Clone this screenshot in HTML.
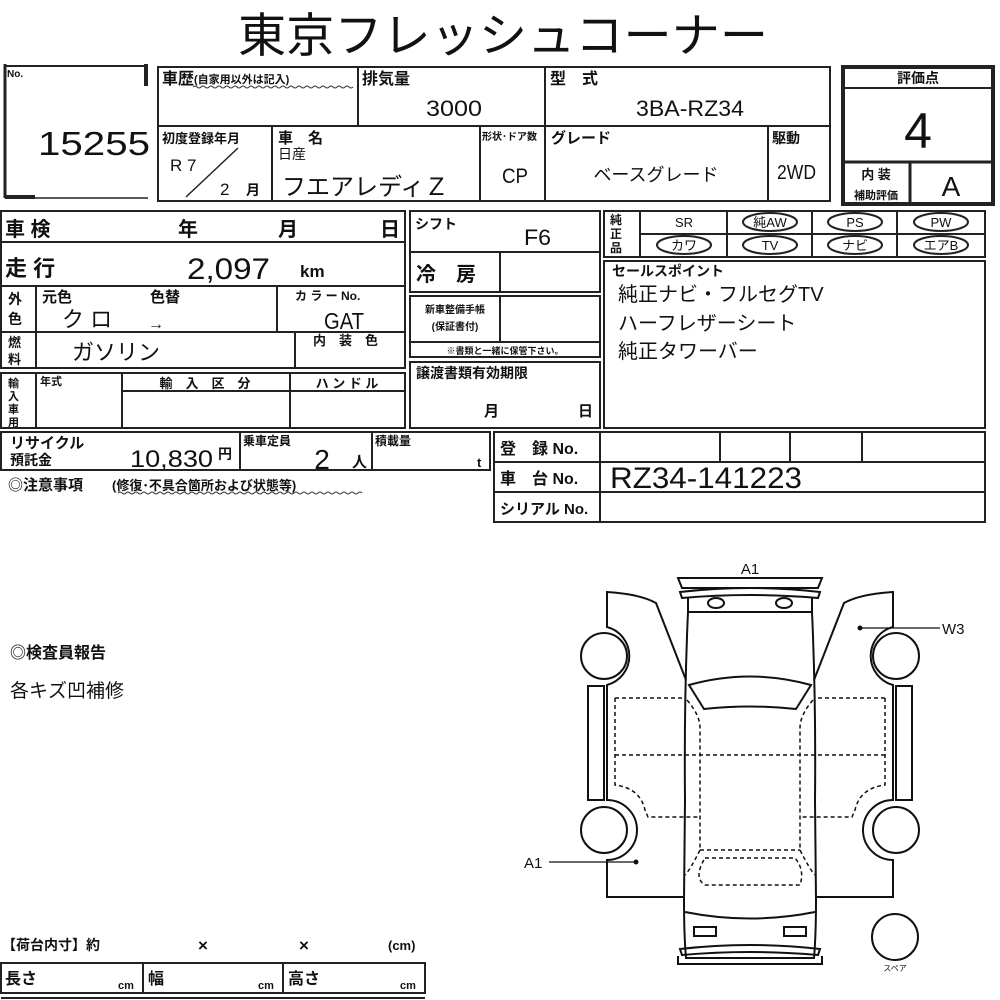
<!DOCTYPE html>
<html><head><meta charset="utf-8"><style>
html,body{margin:0;padding:0;background:#fff;}
svg{display:block;}
text{font-family:"Liberation Sans","Noto Sans CJK JP",sans-serif;fill:#111;}
.b{font-weight:bold;}
</style></head><body>
<svg width="1000" height="1000" viewBox="0 0 1000 1000" xmlns="http://www.w3.org/2000/svg">
<g stroke="#222" stroke-width="2" fill="none">
<path d="M5,66 L147,66" />
<path d="M146,64 L146,86" stroke-width="4"/>
<path d="M5,64 L5,198" stroke-width="3"/>
<path d="M5,197 L35,197" stroke-width="4"/>
<path d="M35,198 L148,198" stroke-width="1.5"/>
<rect x="158" y="67" width="672" height="134"/>
<line x1="158" y1="126" x2="830" y2="126"/>
<line x1="358" y1="67" x2="358" y2="126"/>
<line x1="545" y1="67" x2="545" y2="201"/>
<line x1="272" y1="126" x2="272" y2="201"/>
<line x1="480" y1="126" x2="480" y2="201"/>
<line x1="768" y1="126" x2="768" y2="201"/>
<line x1="186" y1="197" x2="238" y2="148" stroke-width="1.5"/>
<rect x="843" y="67" width="150" height="137" stroke-width="4"/>
<line x1="843" y1="88" x2="993" y2="88"/>
<line x1="843" y1="162" x2="993" y2="162" stroke-width="3"/>
<line x1="910" y1="162" x2="910" y2="204" stroke-width="3"/>
<rect x="1" y="211" width="404" height="157"/>
<line x1="1" y1="242" x2="405" y2="242"/>
<line x1="1" y1="286" x2="405" y2="286"/>
<line x1="1" y1="332" x2="405" y2="332"/>
<line x1="36" y1="286" x2="36" y2="368"/>
<line x1="277" y1="286" x2="277" y2="332"/>
<line x1="295" y1="332" x2="295" y2="368"/>
<rect x="1" y="373" width="404" height="55"/>
<line x1="36" y1="373" x2="36" y2="428"/>
<line x1="122" y1="373" x2="122" y2="428"/>
<line x1="290" y1="373" x2="290" y2="428"/>
<line x1="122" y1="391" x2="405" y2="391"/>
<rect x="410" y="211" width="190" height="81"/>
<line x1="410" y1="252" x2="600" y2="252"/>
<line x1="500" y1="252" x2="500" y2="292"/>
<rect x="410" y="296" width="190" height="61"/>
<line x1="410" y1="342" x2="600" y2="342"/>
<line x1="500" y1="296" x2="500" y2="342"/>
<rect x="410" y="362" width="190" height="66"/>
<rect x="604" y="211" width="381" height="46"/>
<line x1="640" y1="211" x2="640" y2="257"/>
<line x1="727" y1="211" x2="727" y2="257"/>
<line x1="812" y1="211" x2="812" y2="257"/>
<line x1="897" y1="211" x2="897" y2="257"/>
<line x1="640" y1="234" x2="985" y2="234"/>
<ellipse cx="770" cy="222" rx="27" ry="9"/>
<ellipse cx="855" cy="222" rx="27" ry="9"/>
<ellipse cx="941" cy="222" rx="27" ry="9"/>
<ellipse cx="684" cy="245" rx="27" ry="9"/>
<ellipse cx="770" cy="245" rx="27" ry="9"/>
<ellipse cx="855" cy="245" rx="27" ry="9"/>
<ellipse cx="941" cy="245" rx="27" ry="9"/>
<rect x="604" y="261" width="381" height="167"/>
<rect x="1" y="432" width="489" height="38"/>
<line x1="240" y1="432" x2="240" y2="470"/>
<line x1="372" y1="432" x2="372" y2="470"/>
<rect x="494" y="432" width="491" height="90"/>
<line x1="494" y1="462" x2="985" y2="462"/>
<line x1="494" y1="492" x2="985" y2="492"/>
<line x1="600" y1="432" x2="600" y2="522"/>
<line x1="720" y1="432" x2="720" y2="462"/>
<line x1="790" y1="432" x2="790" y2="462"/>
<line x1="862" y1="432" x2="862" y2="462"/>
<rect x="1" y="963" width="424" height="30"/>
<line x1="143" y1="963" x2="143" y2="993"/>
<line x1="283" y1="963" x2="283" y2="993"/>
<line x1="1" y1="998" x2="425" y2="998"/>
</g>
<path d="M193,87 q2,-2 4,0 t4,0 t4,0 t4,0 t4,0 t4,0 t4,0 t4,0 t4,0 t4,0 t4,0 t4,0 t4,0 t4,0 t4,0 t4,0 t4,0 t4,0 t4,0 t4,0 t4,0 t4,0 t4,0 t4,0 t4,0 t4,0 t4,0 t4,0 t4,0 t4,0 t4,0 t4,0 t4,0 t4,0 t4,0 t4,0 t4,0 t4,0 t4,0 t4,0" stroke="#333" fill="none" stroke-width="1"/>
<path d="M118,493 q2,-2 4,0 t4,0 t4,0 t4,0 t4,0 t4,0 t4,0 t4,0 t4,0 t4,0 t4,0 t4,0 t4,0 t4,0 t4,0 t4,0 t4,0 t4,0 t4,0 t4,0 t4,0 t4,0 t4,0 t4,0 t4,0 t4,0 t4,0 t4,0 t4,0 t4,0 t4,0 t4,0 t4,0 t4,0 t4,0 t4,0 t4,0 t4,0 t4,0 t4,0 t4,0 t4,0 t4,0 t4,0 t4,0 t4,0 t4,0 t4,0 t4,0 t4,0 t4,0 t4,0 t4,0 t4,0 t4,0 t4,0 t4,0 t4,0 t4,0 t4,0 t4,0" stroke="#333" fill="none" stroke-width="1"/>

<text x="238" y="52" font-size="47" textLength="530" lengthAdjust="spacingAndGlyphs">東京フレッシュコーナー</text>
<text x="7" y="77" font-size="10" class="b">No.</text>
<text x="38" y="155" font-size="33" textLength="112" lengthAdjust="spacingAndGlyphs">15255</text>
<text x="162" y="84" font-size="16" class="b">車歴</text>
<text x="194" y="83" font-size="11" class="b">(自家用以外は記入)</text>
<text x="362" y="84" font-size="16" class="b">排気量</text>
<text x="426" y="116" font-size="22" textLength="56" lengthAdjust="spacingAndGlyphs">3000</text>
<text x="550" y="84" font-size="16" class="b">型　式</text>
<text x="636" y="116" font-size="22" textLength="108" lengthAdjust="spacingAndGlyphs">3BA-RZ34</text>
<text x="162" y="143" font-size="13" class="b">初度登録年月</text>
<text x="170" y="171" font-size="17">R 7</text>
<text x="220" y="195" font-size="17">2</text>
<text x="246" y="195" font-size="14" class="b">月</text>
<text x="278" y="143" font-size="15" class="b">車　名</text>
<text x="278" y="159" font-size="14">日産</text>
<text x="282" y="195" font-size="24">フエアレディＺ</text>
<text x="482" y="140" font-size="10" class="b">形状･ドア数</text>
<text x="502" y="183" font-size="21" textLength="26" lengthAdjust="spacingAndGlyphs">CP</text>
<text x="551" y="143" font-size="15" class="b">グレード</text>
<text x="656" y="181" font-size="18" text-anchor="middle">ベースグレード</text>
<text x="772" y="143" font-size="14" class="b">駆動</text>
<text x="777" y="179" font-size="20" textLength="39" lengthAdjust="spacingAndGlyphs">2WD</text>
<text x="918" y="83" font-size="14" text-anchor="middle" class="b">評価点</text>
<text x="918" y="148" font-size="50" text-anchor="middle">4</text>
<text x="876" y="179" font-size="13" text-anchor="middle" class="b">内 装</text>
<text x="876" y="199" font-size="11" text-anchor="middle" class="b">補助評価</text>
<text x="951" y="196" font-size="28" text-anchor="middle">A</text>

<text x="5" y="236" font-size="20" class="b">車 検</text>
<text x="178" y="236" font-size="20" class="b">年</text>
<text x="278" y="236" font-size="20" class="b">月</text>
<text x="380" y="236" font-size="20" class="b">日</text>
<text x="5" y="276" font-size="22" class="b">走 行</text>
<text x="187" y="279" font-size="30" textLength="83" lengthAdjust="spacingAndGlyphs">2,097</text>
<text x="300" y="277" font-size="17" class="b">km</text>
<text x="8" y="304" font-size="14" class="b">外</text>
<text x="8" y="324" font-size="14" class="b">色</text>
<text x="42" y="302" font-size="15" class="b">元色</text>
<text x="150" y="302" font-size="15" class="b">色替</text>
<text x="62" y="327" font-size="22">ク ロ</text>
<text x="148" y="329" font-size="16">→</text>
<text x="295" y="300" font-size="12" class="b">カ ラ ー No.</text>
<text x="324" y="329" font-size="23" textLength="40" lengthAdjust="spacingAndGlyphs">GAT</text>
<text x="8" y="347" font-size="13" class="b">燃</text>
<text x="8" y="364" font-size="13" class="b">料</text>
<text x="72" y="360" font-size="22">ガソリン</text>
<text x="313" y="345" font-size="13" class="b">内　装　色</text>
<text x="8" y="387" font-size="11" class="b">輸</text>
<text x="8" y="400" font-size="11" class="b">入</text>
<text x="8" y="413" font-size="11" class="b">車</text>
<text x="8" y="426" font-size="11" class="b">用</text>
<text x="40" y="385" font-size="11" class="b">年式</text>
<text x="205" y="388" font-size="13" text-anchor="middle" class="b">輸　入　区　分</text>
<text x="347" y="388" font-size="13" text-anchor="middle" class="b">ハ ン ド ル</text>

<text x="415" y="229" font-size="14" class="b">シフト</text>
<text x="524" y="245" font-size="22" textLength="27" lengthAdjust="spacingAndGlyphs">F6</text>
<text x="416" y="281" font-size="20" class="b">冷　房</text>
<text x="455" y="313" font-size="10" text-anchor="middle" class="b">新車整備手帳</text>
<text x="455" y="330" font-size="10" text-anchor="middle" class="b">(保証書付)</text>
<text x="505" y="354" font-size="9" text-anchor="middle" class="b">※書類と一緒に保管下さい。</text>
<text x="416" y="378" font-size="14" class="b">譲渡書類有効期限</text>
<text x="484" y="416" font-size="15" class="b">月</text>
<text x="578" y="416" font-size="15" class="b">日</text>

<text x="610" y="224" font-size="12" class="b">純</text>
<text x="610" y="238" font-size="12" class="b">正</text>
<text x="610" y="252" font-size="12" class="b">品</text>
<g font-size="13" text-anchor="middle">
<text x="684" y="227">SR</text><text x="770" y="227">純AW</text><text x="855" y="227">PS</text><text x="941" y="227">PW</text>
<text x="684" y="250">カワ</text><text x="770" y="250">TV</text><text x="855" y="250">ナビ</text><text x="941" y="250">エアB</text>
</g>
<text x="612" y="276" font-size="14" class="b">セールスポイント</text>
<text x="618" y="301" font-size="20">純正ナビ・フルセグTV</text>
<text x="618" y="330" font-size="20">ハーフレザーシート</text>
<text x="618" y="358" font-size="20">純正タワーバー</text>

<text x="10" y="448" font-size="15" class="b">リサイクル</text>
<text x="10" y="465" font-size="14" class="b">預託金</text>
<text x="130" y="467" font-size="24" textLength="83" lengthAdjust="spacingAndGlyphs">10,830</text>
<text x="218" y="459" font-size="14" class="b">円</text>
<text x="243" y="445" font-size="12" class="b">乗車定員</text>
<text x="322" y="469" font-size="28" text-anchor="middle">2</text>
<text x="352" y="467" font-size="15" class="b">人</text>
<text x="375" y="445" font-size="12" class="b">積載量</text>
<text x="477" y="467" font-size="13" class="b">t</text>
<text x="8" y="490" font-size="15" class="b">◎注意事項</text>
<text x="112" y="490" font-size="13" class="b">(修復･不具合箇所および状態等)</text>
<text x="500" y="454" font-size="16" class="b">登　録 No.</text>
<text x="500" y="484" font-size="16" class="b">車　台 No.</text>
<text x="500" y="514" font-size="15" class="b">シリアル No.</text>
<text x="610" y="488" font-size="30" textLength="192" lengthAdjust="spacingAndGlyphs">RZ34-141223</text>

<text x="10" y="658" font-size="16" class="b">◎検査員報告</text>
<text x="10" y="697" font-size="19">各キズ凹補修</text>

<text x="2" y="950" font-size="14" class="b">【荷台内寸】約</text>
<text x="198" y="951" font-size="17" class="b">×</text>
<text x="299" y="951" font-size="17" class="b">×</text>
<text x="388" y="950" font-size="13" class="b">(cm)</text>
<text x="5" y="984" font-size="16" class="b">長さ</text>
<text x="118" y="989" font-size="11" class="b">cm</text>
<text x="148" y="984" font-size="16" class="b">幅</text>
<text x="258" y="989" font-size="11" class="b">cm</text>
<text x="288" y="984" font-size="16" class="b">高さ</text>
<text x="400" y="989" font-size="11" class="b">cm</text>

<g stroke="#111" stroke-width="2" fill="none">
<path d="M678,578 L822,578 L818,588 L682,588 Z"/>
<path d="M680,592 Q750,584 820,592 L818,598 Q750,592 682,598 Z"/>
<path d="M688,598 L688,612 L812,612 L812,598"/>
<ellipse cx="716" cy="603" rx="8" ry="5"/>
<ellipse cx="784" cy="603" rx="8" ry="5"/>
<path d="M688,612 Q684,700 685,800 L684,900 Q684,935 686,958 L814,958 Q816,935 816,900 L815,800 Q816,700 812,612"/>
<path d="M689,685 Q750,668 811,685 L796,709 Q750,704 704,709 Z"/>
<path d="M685,912 Q750,925 815,912"/>
<rect x="694" y="927" width="22" height="9"/>
<rect x="784" y="927" width="22" height="9"/>
<path d="M680,949 Q750,941 820,949 L818,955 Q750,949 682,955 Z"/>
<path d="M678,956 L678,964 L822,964 L822,956"/>
<g id="side">
<path d="M686,680 L656,603 Q640,594 607,592 L607,627 A30,30 0 0 1 607,685 L607,800 A30,30 0 0 1 607,860 L607,897 L684,897"/>
<circle cx="604" cy="656" r="23"/>
<circle cx="604" cy="830" r="23"/>
<rect x="588" y="686" width="16" height="114"/>
</g>
<use href="#side" transform="translate(1500,0) scale(-1,1)"/>
<g stroke-dasharray="4,3" stroke-width="1.5">
<path d="M615,698 L683,698 M615,698 L615,785 Q640,788 645,810 L648,817 L700,817"/>
<path d="M615,755 L885,755"/>
<path d="M885,698 L817,698 M885,698 L885,785 Q860,788 855,810 L852,817 L800,817"/>
<path d="M687,700 Q700,715 700,728 L700,850 M813,700 Q800,715 800,728 L800,850"/>
<path d="M700,850 L800,850 M700,850 Q690,870 685,875 M800,850 Q810,870 815,875"/>
<path d="M705,858 L795,858 Q805,870 800,885 L705,885 Q693,878 705,858 Z"/>
</g>
<circle cx="895" cy="937" r="23"/>
</g>
<circle cx="860" cy="628" r="2.5" fill="#111"/>
<line x1="860" y1="628" x2="940" y2="628" stroke="#111" stroke-width="1.2"/>
<circle cx="636" cy="862" r="2.5" fill="#111"/>
<line x1="549" y1="862" x2="636" y2="862" stroke="#111" stroke-width="1.2"/>
<text x="750" y="574" font-size="15" text-anchor="middle">A1</text>
<text x="942" y="634" font-size="15">W3</text>
<text x="524" y="868" font-size="15">A1</text>
<text x="895" y="971" font-size="8" text-anchor="middle">スペア</text>
</svg>
</body></html>
